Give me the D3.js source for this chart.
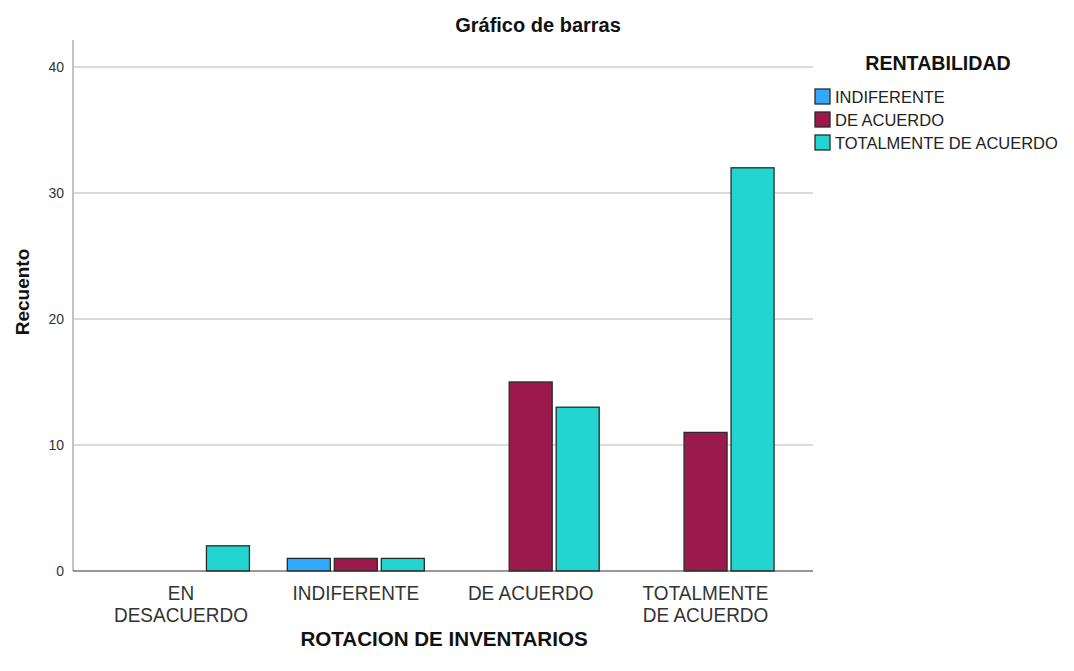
<!DOCTYPE html>
<html><head><meta charset="utf-8">
<script src="https://cdn.jsdelivr.net/npm/d3@7"></script>
<style>body{margin:0;background:#fff}svg{display:block;font-family:"Liberation Sans",Arial,sans-serif}</style>
</head><body><svg id="c" width="1074" height="671"></svg>
<script>
const categories = [["EN","DESACUERDO"],["INDIFERENTE"],["DE ACUERDO"],["TOTALMENTE","DE ACUERDO"]];
const categoryKeys = ["EN DESACUERDO","INDIFERENTE","DE ACUERDO","TOTALMENTE DE ACUERDO"];
const seriesNames = ["INDIFERENTE","DE ACUERDO","TOTALMENTE DE ACUERDO"];
const seriesIndiferente = [0,1,0,0];
const seriesDeAcuerdo = [0,1,15,11];
const seriesTotalmente = [2,1,13,32];
const yTicks = [0,10,20,30,40];
const colors = ["#33a9fc","#9c1a4b","#22d5d0"];

const allSeries = [seriesIndiferente, seriesDeAcuerdo, seriesTotalmente];
const svg = d3.select("#c");
const y = d3.scaleLinear().domain([0,40]).range([571,67]);
const x0 = d3.scaleBand().domain(categoryKeys).range([93.5,793]).padding(0);
const x1 = d3.scaleBand().domain(seriesNames).range([-68.5,68.5]).paddingInner(4/47).paddingOuter(0);

function txt(g, x, yy, s, size, bold, anchor, sx, fill){
  return g.append("text").attr("transform",`translate(${x},${yy}) scale(${sx},1)`)
    .attr("text-anchor",anchor).attr("font-size",size).attr("font-weight",bold?"bold":"normal")
    .attr("fill",fill||"#222").text(s);
}

// gridlines
svg.append("g").selectAll("line").data(yTicks.filter(d=>d>0)).join("line")
  .attr("x1",74).attr("x2",813).attr("y1",d=>y(d)).attr("y2",d=>y(d))
  .attr("stroke","#cfcfcf").attr("stroke-width",1.5);

// y axis
const ya = svg.append("g").attr("transform","translate(73,0)")
  .call(d3.axisLeft(y).tickValues(yTicks).tickSize(0).tickPadding(9).tickFormat(d3.format("d")));
ya.select(".domain").attr("d","M0,40V571").attr("stroke","#9a9a9a").attr("stroke-width",1.2);
ya.selectAll("text").attr("font-size",14).attr("fill","#333").attr("font-family","Liberation Sans, Arial");

// bars
const groups = svg.append("g").selectAll("g").data(categoryKeys).join("g")
  .attr("transform",d=>`translate(${x0(d)+x0.bandwidth()/2},0)`);
groups.selectAll("rect").data((d,i)=>seriesNames.map((s,j)=>({s,j,v:allSeries[j][i]})).filter(e=>e.v>0)).join("rect")
  .attr("x",d=>x1(d.s)).attr("width",x1.bandwidth())
  .attr("y",d=>y(d.v)).attr("height",d=>y(0)-y(d.v))
  .attr("fill",d=>colors[d.j]).attr("stroke","#2a2a2a").attr("stroke-width",1.3);

// x axis
const xa = svg.append("g").attr("transform","translate(0,571)")
  .call(d3.axisBottom(x0).tickSize(0).tickFormat(""));
xa.select(".domain").attr("d","M73,0H813").attr("stroke","#333").attr("stroke-width",1.2);
categoryKeys.forEach((k,i)=>{
  const cx = x0(k)+x0.bandwidth()/2;
  categories[i].forEach((line,li)=>{
    txt(svg, cx, 600+li*22, line, 20, false, "middle", 0.95, "#333");
  });
});

// titles
txt(svg, 538, 32, "Gráfico de barras", 20, true, "middle", 1.0, "#111");
txt(svg, 444, 646, "ROTACION DE INVENTARIOS", 21, true, "middle", 0.98, "#111");
svg.append("text").attr("transform","translate(29,292) rotate(-90)").attr("text-anchor","middle")
  .attr("font-size",19).attr("font-weight","bold").attr("fill","#111").text("Recuento");

// legend
txt(svg, 938, 70, "RENTABILIDAD", 20, true, "middle", 0.98, "#111");
seriesNames.forEach((s,i)=>{
  const cy = 97 + i*23;
  svg.append("rect").attr("x",815).attr("y",cy-8).attr("width",15).attr("height",15)
    .attr("fill",colors[i]).attr("stroke","#2a2a2a").attr("stroke-width",1.3);
  txt(svg, 835, cy+6, s, 17, false, "start", 0.97, "#222");
});
</script></body></html>
